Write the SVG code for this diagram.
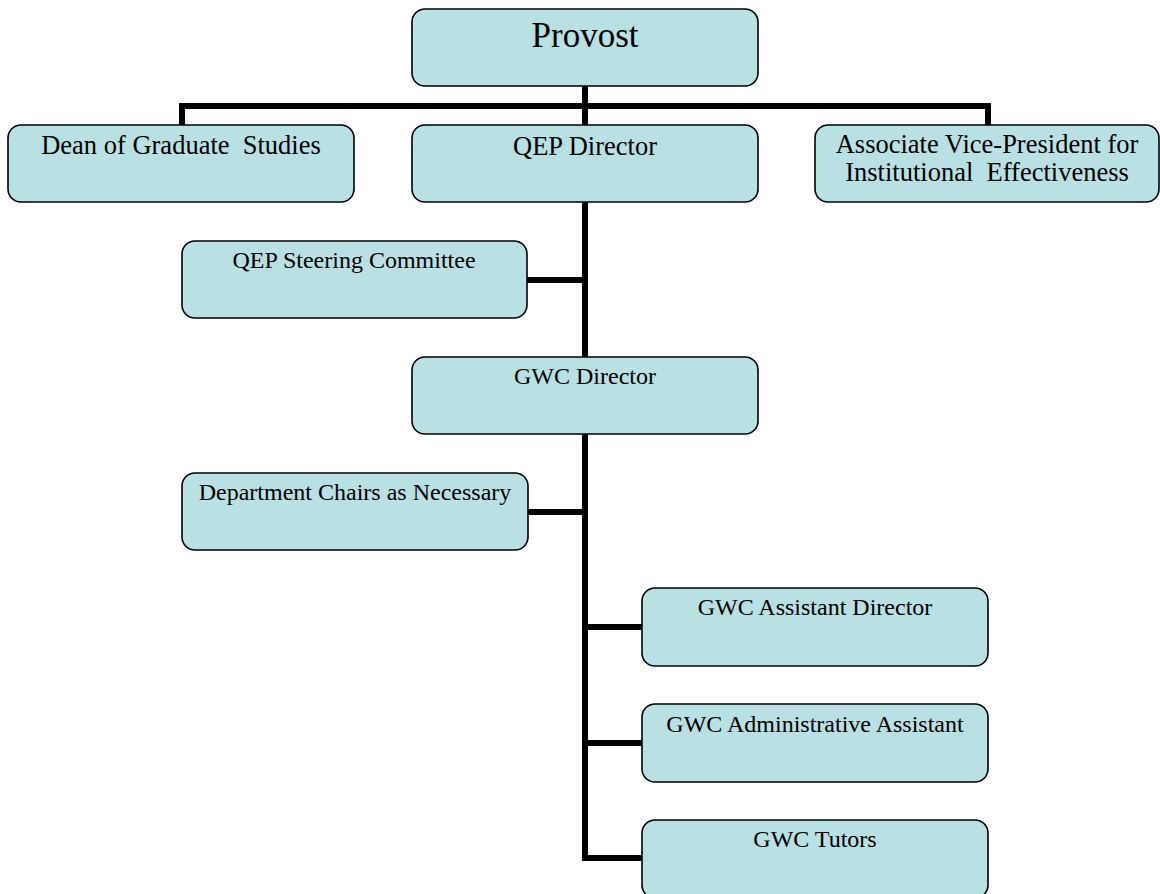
<svg xmlns="http://www.w3.org/2000/svg" width="1160" height="894" viewBox="0 0 1160 894">
  <style>
    .box { fill: #b9e0e3; stroke: #000; stroke-width: 1.6; }
    .wire { fill: none; stroke: #000; stroke-width: 6; stroke-linecap: butt; stroke-linejoin: miter; }
    text { font-family: "Liberation Serif", "Times New Roman", serif; fill: #000; text-anchor: middle; }
    .big { font-size: 35px; }
    .mid { font-size: 26.5px; }
    .small { font-size: 24px; }
  </style>
  <rect width="1160" height="894" fill="#fff"/>

  <!-- connectors -->
  <g id="connectors">
    <path class="wire" d="M585 86 V858"/>
    <path class="wire" d="M182 125 V106 H988 V125"/>
    <path class="wire" d="M527 280 H585"/>
    <path class="wire" d="M528 512 H585"/>
    <path class="wire" d="M585 627 H642"/>
    <path class="wire" d="M585 743 H642"/>
    <path class="wire" d="M582 858 H642"/>
  </g>

  <g id="provost">
    <rect class="box" x="412" y="9" width="346" height="77" rx="13"/>
    <text class="big" x="585" y="47">Provost</text>
  </g>
  <g id="dean-graduate-studies">
    <rect class="box" x="8" y="125" width="346" height="77" rx="13"/>
    <text class="mid" x="181" y="154" xml:space="preserve">Dean of Graduate  Studies</text>
  </g>
  <g id="qep-director">
    <rect class="box" x="412" y="125" width="346" height="77" rx="13"/>
    <text class="mid" x="585" y="155">QEP Director</text>
  </g>
  <g id="avp-institutional-effectiveness">
    <rect class="box" x="815" y="125" width="344" height="77" rx="13"/>
    <text class="mid" x="987" y="153">Associate Vice-President for</text>
    <text class="mid" x="987" y="181" xml:space="preserve">Institutional  Effectiveness</text>
  </g>
  <g id="qep-steering-committee">
    <rect class="box" x="182" y="241" width="345" height="77" rx="13"/>
    <text class="small" x="354" y="268">QEP Steering Committee</text>
  </g>
  <g id="gwc-director">
    <rect class="box" x="412" y="357" width="346" height="77" rx="13"/>
    <text class="small" x="585" y="384">GWC Director</text>
  </g>
  <g id="department-chairs">
    <rect class="box" x="182" y="473" width="346" height="77" rx="13"/>
    <text class="small" x="355" y="500">Department Chairs as Necessary</text>
  </g>
  <g id="gwc-assistant-director">
    <rect class="box" x="642" y="588" width="346" height="78" rx="13"/>
    <text class="small" x="815" y="615">GWC Assistant Director</text>
  </g>
  <g id="gwc-administrative-assistant">
    <rect class="box" x="642" y="704" width="346" height="78" rx="13"/>
    <text class="small" x="815" y="732">GWC Administrative Assistant</text>
  </g>
  <g id="gwc-tutors">
    <rect class="box" x="642" y="820" width="346" height="78" rx="13"/>
    <text class="small" x="815" y="847">GWC Tutors</text>
  </g>
</svg>
